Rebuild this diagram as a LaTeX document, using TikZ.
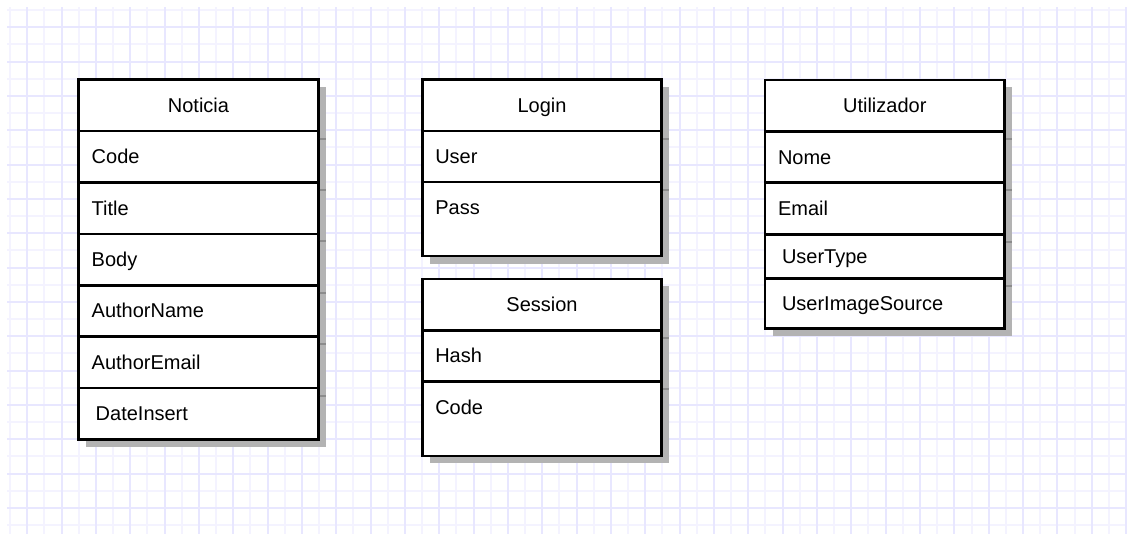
\documentclass[tikz,border=0pt]{standalone}
\usepackage{fontspec}
\setmainfont{Liberation Sans}
\usetikzlibrary{positioning,shadows}
\definecolor{gridminor}{HTML}{F4F3FF}
\definecolor{gridmajor}{HTML}{E8E7FF}
\definecolor{shadowgray}{HTML}{B3B3B3}
\definecolor{shadowline}{HTML}{8C8C8C}
\begin{document}
\begin{tikzpicture}[x=1pt,y=-1pt,
     tbl/.style={draw,fill=white,line width=2.7pt,outer sep=0pt,inner ysep=0pt,
       minimum height=51.4pt,text height=14pt,text depth=0pt,
       inner xsep=13pt,text width=213.5pt,font=\fontsize{20}{24}\selectfont,
       drop shadow={shadow xshift=7.5pt,shadow yshift=-7.5pt,opacity=1,fill=shadowgray}},
     head/.style={tbl,align=center},
     attr/.style={tbl,align=left},
     attrin/.style={attr,inner xsep=17pt,text width=205.5pt},
     sepshade/.style={shadowline,line width=2pt},
     gridline/.style={line width=2pt},
     node distance=0pt
   ]
   \useasboundingbox (0,0) rectangle (1127,534);
   % Grid.
   \foreach \k [evaluate=\k as \g using {round(10+17.17*\k)}] in {0,2,...,64}
     \draw[gridline,gridminor] (\g,7) -- (\g,534);
   \foreach \k [evaluate=\k as \g using {round(10+17.17*\k)}] in {0,2,...,30}
     \draw[gridline,gridminor] (7,\g) -- (1127,\g);
   \foreach \k [evaluate=\k as \g using {round(10+17.17*\k)}] in {1,3,...,65}
     \draw[gridline,gridmajor] (\g,7) -- (\g,534);
   \foreach \k [evaluate=\k as \g using {round(10+17.17*\k)}] in {1,3,...,29}
     \draw[gridline,gridmajor] (7,\g) -- (1127,\g);
   % Noticia.
   \node[head,anchor=north west] (noticia) at (78.7,79.7) {Noticia};
   \node[attr,below=of noticia] (n1) {Code};
   \node[attr,below=of n1] (n2) {Title};
   \node[attr,below=of n2] (n3) {Body};
   \node[attr,below=of n3] (n4) {AuthorName};
   \node[attr,below=of n4] (n5) {AuthorEmail};
   \node[attrin,below=of n5] (n6) {DateInsert};
   % Login and Session.
   \node[head,anchor=north west] (login) at (422.3,79.7) {Login};
   \node[attr,below=of login,minimum height=51pt] (l1) {User};
   \node[attr,below=of l1,minimum height=74pt,text depth=22.6pt] (l2) {Pass};
   \node[head,anchor=north west] (session) at (422.3,279) {Session};
   \node[attr,below=of session,minimum height=51pt] (s1) {Hash};
   \node[attr,below=of s1,minimum height=74.5pt,text depth=23pt] (s2) {Code};
   % Utilizador.
   \node[head,anchor=north west] (util) at (765,80) {Utilizador};
   \node[attr,below=of util] (u1) {Nome};
   \node[attr,below=of u1] (u2) {Email};
   \node[attrin,below=of u2,minimum height=44.4pt] (u3) {UserType};
   \node[attrin,below=of u3,minimum height=50pt] (u4) {UserImageSource};
   % Row lines in the shadows.
   \foreach \n in {n1,n2,n3,n4,n5,n6,l1,l2,s1,s2,u1,u2,u3,u4}
     \draw[sepshade] ([xshift=1.35pt,yshift=-7.5pt]\n.north east) -- ++(6,0);
\end{tikzpicture}
\end{document}
